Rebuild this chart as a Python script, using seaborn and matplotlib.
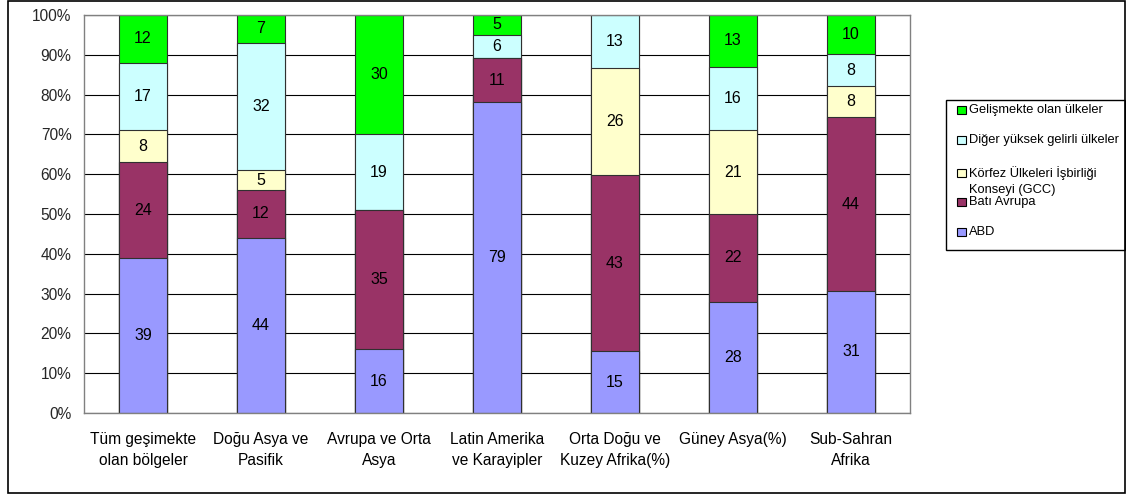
import matplotlib
matplotlib.use("Agg")
import matplotlib.pyplot as plt
import numpy as np
import pandas as pd
import seaborn as sns
from matplotlib.patches import Rectangle

categories = [
    "Tüm geşimekte\nolan bölgeler",
    "Doğu Asya ve\nPasifik",
    "Avrupa ve Orta\nAsya",
    "Latin Amerika\nve Karayipler",
    "Orta Doğu ve\nKuzey Afrika(%)",
    "Güney Asya(%)",
    "Sub-Sahran\nAfrika",
]
series_names = [
    "ABD",
    "Batı Avrupa",
    "Körfez Ülkeleri İşbirliği\nKonseyi (GCC)",
    "Diğer yüksek gelirli ülkeler",
    "Gelişmekte olan ülkeler",
]
abd = [39, 44, 16, 79, 15, 28, 31]
bati_avrupa = [24, 12, 35, 11, 43, 22, 44]
korfez = [8, 5, 0, 0, 26, 21, 8]
diger = [17, 32, 19, 6, 13, 16, 8]
gelismekte = [12, 7, 30, 5, 0, 13, 10]

colors = ["#9999FF", "#993366", "#FFFFCC", "#CCFFFF", "#00FF00"]

W, H = 1126, 494

sns.set_theme(style="white")
plt.rcParams["font.family"] = ["Liberation Sans", "DejaVu Sans"]

values = np.array([abd, bati_avrupa, korfez, diger, gelismekte], dtype=float)
shares = values / values.sum(axis=0) * 100
cum = shares.cumsum(axis=0)

fig = plt.figure(figsize=(W / 100, H / 100), dpi=100)
fig.patch.set_facecolor("white")
ax = fig.add_axes([84 / W, (H - 413) / H, (910 - 84) / W, (413 - 15) / H])

# stacked look: draw cumulative totals from the top series down
for i in range(len(series_names) - 1, -1, -1):
    df = pd.DataFrame({"cat": categories, "val": cum[i]})
    sns.barplot(data=df, x="cat", y="val", order=categories, color=colors[i],
                width=0.4, saturation=1, edgecolor="#303030", linewidth=0.8, ax=ax)

for i in range(len(series_names)):
    for j in range(len(categories)):
        if values[i, j] > 0:
            ax.text(j, cum[i, j] - shares[i, j] / 2, f"{int(values[i, j])}",
                    ha="center", va="center", fontsize=11.5, color="black")

ax.set_xlim(-0.5, len(categories) - 0.5)
ax.set_ylim(0, 100)
ax.set_yticks(np.arange(0, 101, 10))
ax.set_yticklabels([f"{v}%" for v in range(0, 101, 10)], fontsize=11.2)
ax.set_xticks(range(len(categories)))
ax.set_xticklabels(categories, fontsize=11.2, linespacing=1.5)
ax.set_xticks(np.arange(-0.5, len(categories)), minor=True)
ax.tick_params(axis="x", which="major", length=0, pad=14, colors="black")
ax.tick_params(axis="x", which="minor", length=5, direction="out", color="black", width=0.8)
ax.tick_params(axis="y", length=5, direction="out", color="black", width=0.8, pad=4)
ax.set_xlabel("")
ax.set_ylabel("")
ax.yaxis.grid(True, color="black", linewidth=0.8)
ax.set_axisbelow(True)
for side in ["top", "right", "left", "bottom"]:
    ax.spines[side].set_color("#808080")
    ax.spines[side].set_linewidth(1)


def fx(px):
    return px / W


def fy(py):
    return 1 - py / H


# outer chart border
fig.patches.append(Rectangle((fx(8), fy(493)), fx(1124.5) - fx(8), fy(1) - fy(493),
                             transform=fig.transFigure, fill=False, edgecolor="black",
                             linewidth=1.2))

# legend box
fig.patches.append(Rectangle((fx(946), fy(250)), fx(1124.5) - fx(946), fy(100) - fy(250),
                             transform=fig.transFigure, fill=False, edgecolor="black",
                             linewidth=1))
legend_rows = [
    (4, 110, 110),
    (3, 140, 140),
    (2, 173, 181),
    (1, 202, 202),
    (0, 232, 232),
]
for idx, marker_y, text_y in legend_rows:
    fig.patches.append(Rectangle((fx(957), fy(marker_y + 4)), fx(966) - fx(957), fy(marker_y - 4) - fy(marker_y + 4),
                                 transform=fig.transFigure, facecolor=colors[idx],
                                 edgecolor="black", linewidth=0.8))
    fig.text(fx(969), fy(text_y), series_names[idx], ha="left", va="center",
             fontsize=9.3, color="black", linespacing=1.35)

fig.savefig("out.png", dpi=100, facecolor="white")
